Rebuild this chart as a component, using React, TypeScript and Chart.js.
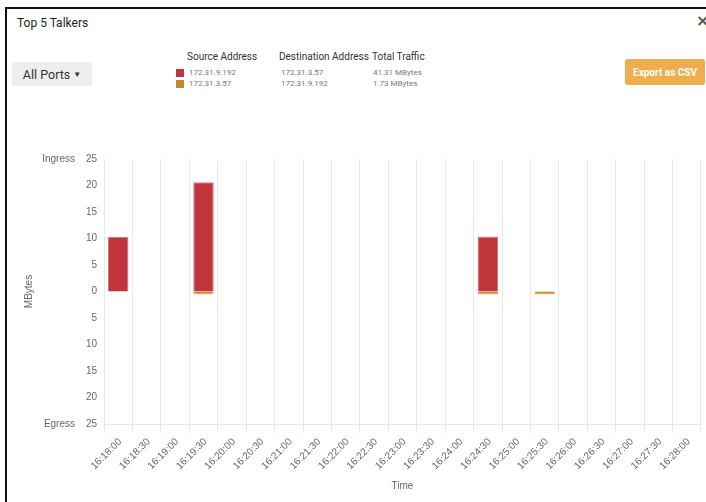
import React, { useEffect, useRef } from "react";
import { Chart, registerables } from "chart.js";

Chart.register(...registerables);

const timeLabels = [
  "16:18:00", "16:18:30", "16:19:00", "16:19:30", "16:20:00", "16:20:30", "16:21:00",
  "16:21:30", "16:22:00", "16:22:30", "16:23:00", "16:23:30", "16:24:00", "16:24:30",
  "16:25:00", "16:25:30", "16:26:00", "16:26:30", "16:27:00", "16:27:30", "16:28:00",
];

// Ingress (positive) traffic, source 172.31.9.192
const ingressValues = [
  10.3, null, null, 20.6, null, null, null, null, null, null, null, null, null, 10.4,
  null, null, null, null, null, null, null,
];

// Egress (negative) traffic, source 172.31.3.57
const egressValues = [
  null, null, null, -0.58, null, null, null, null, null, null, null, null, null, -0.58,
  null, -0.57, null, null, null, null, null,
];

const legendRows = [
  { src: "172.31.9.192", dst: "172.31.3.57", total: "41.31 MBytes", color: "#c0343b" },
  { src: "172.31.3.57", dst: "172.31.9.192", total: "1.73 MBytes", color: "#c8862f" },
];

const yMin = -25;
const yMax = 25;
const yStep = 5;

const CHART_FONT = "'Liberation Sans', Arial, Helvetica, sans-serif";

export default function App() {
  const canvasRef = useRef<HTMLCanvasElement | null>(null);

  useEffect(() => {
    if (!canvasRef.current) return;
    const sidePlugin = {
      id: "ingressEgress",
      afterDraw(chart: any) {
        const { ctx, chartArea, scales } = chart;
        const y = scales.y;
        ctx.save();
        ctx.font = `10px ${CHART_FONT}`;
        ctx.fillStyle = "#666";
        ctx.textAlign = "right";
        ctx.textBaseline = "middle";
        ctx.fillText("Ingress", chartArea.left - 29, y.getPixelForValue(yMax));
        ctx.fillText("Egress", chartArea.left - 29, y.getPixelForValue(yMin));
        ctx.restore();
      },
    };
    const chart = new Chart(canvasRef.current, {
      type: "bar",
      data: {
        labels: timeLabels,
        datasets: [
          {
            label: legendRows[0].src,
            data: ingressValues as any,
            backgroundColor: "#c0343b",
            borderColor: "#d9787c",
            borderWidth: 1,
          },
          {
            label: legendRows[1].src,
            data: egressValues as any,
            backgroundColor: "#c8862f",
            borderColor: "#dcae70",
            borderWidth: 1,
          },
        ],
      },
      options: {
        animation: false,
        responsive: false,
        maintainAspectRatio: false,
        layout: { padding: { left: 19, right: 5, top: 28, bottom: 0 } },
        plugins: {
          legend: { display: false },
          tooltip: { enabled: false },
        },
        scales: {
          x: {
            stacked: true,
            offset: true,
            grid: { display: true, offset: true, color: "#e8e8e8", tickLength: 9 },
            border: { display: true, color: "#e8e8e8" },
            ticks: {
              autoSkip: false,
              minRotation: 45,
              maxRotation: 45,
              labelOffset: 2,
              color: "#666",
              font: { family: CHART_FONT, size: 10 },
            },
            title: {
              display: true,
              text: "Time",
              color: "#666",
              font: { family: CHART_FONT, size: 10 },
            },
            afterFit(scale: any) {
              scale.height = 72;
            },
          },
          y: {
            stacked: true,
            min: yMin,
            max: yMax,
            grid: { display: false, drawTicks: false },
            border: { display: false },
            ticks: {
              stepSize: yStep,
              padding: 7,
              color: "#666",
              font: { family: CHART_FONT, size: 10 },
              callback: (v: any) => String(Math.abs(Number(v))),
            },
            title: {
              display: true,
              text: "MBytes",
              color: "#666",
              font: { family: CHART_FONT, size: 10 },
            },
            afterFit(scale: any) {
              scale.width = 85;
            },
          },
        },
      },
      plugins: [sidePlugin],
    });
    return () => chart.destroy();
  }, []);

  const hdr: React.CSSProperties = {
    position: "absolute",
    top: 51,
    fontSize: 10,
    fontWeight: 400,
    color: "#333",
    fontFamily: "Roboto, sans-serif",
    whiteSpace: "nowrap",
  };
  const cell: React.CSSProperties = {
    position: "absolute",
    fontSize: 8,
    color: "#777",
    fontFamily: "Roboto, sans-serif",
    whiteSpace: "nowrap",
    lineHeight: "10px",
  };

  return (
    <div style={{ position: "absolute", left: 0, top: 0, width: 706, height: 502, overflow: "hidden", background: "#fff" }}>
      <div
        style={{
          position: "absolute",
          left: 5,
          top: 7,
          width: 800,
          height: 600,
          borderLeft: "2px solid #111",
          borderTop: "2px solid #111",
        }}
      />
      <div
        style={{
          position: "absolute",
          left: 17,
          top: 15,
          fontFamily: "Roboto, sans-serif",
          fontSize: 12,
          fontWeight: 400,
          color: "#222",
          lineHeight: "16px",
          whiteSpace: "nowrap",
        }}
      >
        Top 5 Talkers
      </div>
      <div
        style={{
          position: "absolute",
          left: 696,
          top: 11,
          fontFamily: "'DejaVu Sans', sans-serif",
          fontSize: 16,
          fontWeight: 700,
          color: "#555",
          lineHeight: "20px",
        }}
      >
        ×
      </div>
      <div
        style={{
          position: "absolute",
          left: 12,
          top: 62,
          width: 80,
          height: 24,
          background: "#eeeeee",
          borderRadius: 3,
          fontFamily: "Roboto, sans-serif",
          fontSize: 12.5,
          color: "#333",
          display: "flex",
          alignItems: "center",
          justifyContent: "center",
          whiteSpace: "nowrap",
        }}
      >
        All Ports<span style={{ fontSize: 8, marginLeft: 3 }}>▼</span>
      </div>

      <div style={{ ...hdr, left: 187 }}>Source Address</div>
      <div style={{ ...hdr, left: 279 }}>Destination Address</div>
      <div style={{ ...hdr, left: 372 }}>Total Traffic</div>
      {legendRows.map((r, i) => (
        <React.Fragment key={i}>
          <div
            style={{
              position: "absolute",
              left: 176,
              top: 69 + i * 11,
              width: 8,
              height: 8,
              background: r.color,
            }}
          />
          <div style={{ ...cell, left: 189, top: 68 + i * 11 }}>{r.src}</div>
          <div style={{ ...cell, left: 281, top: 68 + i * 11 }}>{r.dst}</div>
          <div style={{ ...cell, left: 373, top: 68 + i * 11 }}>{r.total}</div>
        </React.Fragment>
      ))}

      <div
        style={{
          position: "absolute",
          left: 625,
          top: 59,
          width: 80,
          height: 26,
          background: "#f0ad4e",
          borderRadius: 3,
          color: "#fff",
          fontFamily: "Roboto, sans-serif",
          fontSize: 10,
          fontWeight: 700,
          display: "flex",
          alignItems: "center",
          justifyContent: "center",
          whiteSpace: "nowrap",
        }}
      >
        Export as CSV
      </div>

      <canvas
        ref={canvasRef}
        width={706}
        height={365}
        style={{ position: "absolute", left: 0, top: 131, width: 706, height: 365 }}
      />
    </div>
  );
}
